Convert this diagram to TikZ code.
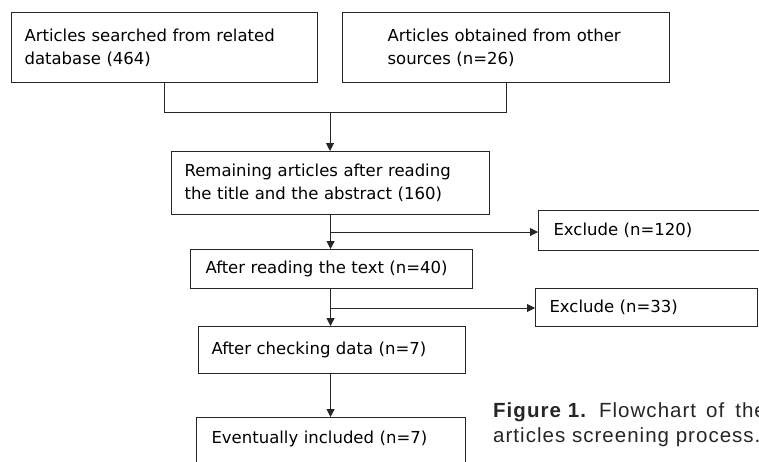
\documentclass[tikz,border=0pt]{standalone}
\usepackage{fontspec}
\setmainfont{DejaVu Sans}
\newfontfamily\capfont[LetterSpace=5]{Liberation Sans}
\usetikzlibrary{arrows.meta}
\begin{document}
\begin{tikzpicture}[x=1pt,y=-1pt,
  box/.style={draw=black!85, line width=1.1pt, rectangle, anchor=north west, align=left,
    inner xsep=0pt, inner ysep=0pt, font=\fontsize{16.5}{23}\selectfont, text=black},
  conn/.style={draw=black!85, line width=1pt},
  arr/.style={conn, -{Triangle[length=8pt,width=8pt]}},
  captext/.style={anchor=base west, inner sep=0pt, font=\capfont\fontsize{20.5}{24}\selectfont, text=black!85}]
\clip (0,0) rectangle (759,461);
\fill[white] (0,0) rectangle (759,461);
\node[box, minimum width=306pt, minimum height=70pt, text width=280pt] (b1) at (11,12)
  {Articles searched from related\\database (464)};
\node[box, minimum width=327pt, minimum height=70pt, text width=237pt] (b2) at (342,12)
  {Articles obtained from other\\sources (n=26)};
\node[box, minimum width=318pt, minimum height=63pt, text width=292pt] (b3) at (171,151)
  {Remaining articles after reading\\the title and the abstract (160)};
\node[box, minimum width=282pt, minimum height=39pt, text width=252pt] (b4) at (190,249)
  {After reading the text (n=40)};
\node[box, minimum width=267pt, minimum height=47pt, text width=241pt] (b5) at (198,326)
  {After checking data (n=7)};
\node[box, minimum width=269pt, text width=239pt, text height=10pt, text depth=40pt, inner ysep=16pt] (b6) at (196,417)
  {Eventually included (n=7)};
\node[box, minimum width=232pt, minimum height=40pt, text width=202pt] (e1) at (538,210)
  {Exclude (n=120)};
\node[box, minimum width=222pt, minimum height=38pt, text width=194pt] (e2) at (535,288)
  {Exclude (n=33)};
\coordinate (j) at (330,112);
\coordinate (k1) at (330,232);
\coordinate (k2) at (330,308);
\draw[conn] (b1.south) -- (b1.south |- j) -- (b2.south |- j) -- (b2.south);
\draw[arr] (j) -- (j |- b3.north);
\draw[arr] (b3.south) -- (b3.south |- b4.north);
\draw[arr] (k1) -- (k1 -| e1.west);
\draw[arr] (b3.south |- b4.south) -- (b3.south |- b5.north);
\draw[arr] (k2) -- (k2 -| e2.west);
\draw[arr] (b3.south |- b5.south) -- (b3.south |- b6.north);
\node[captext] (c1) at (493,417) {\textbf{Figure\hspace{7pt}1.}\hspace{12pt}Flowchart\hspace{10pt}of\hspace{11pt}the};
\node[captext] (c2) at (493,442) {articles screening process.};
\end{tikzpicture}
\end{document}
